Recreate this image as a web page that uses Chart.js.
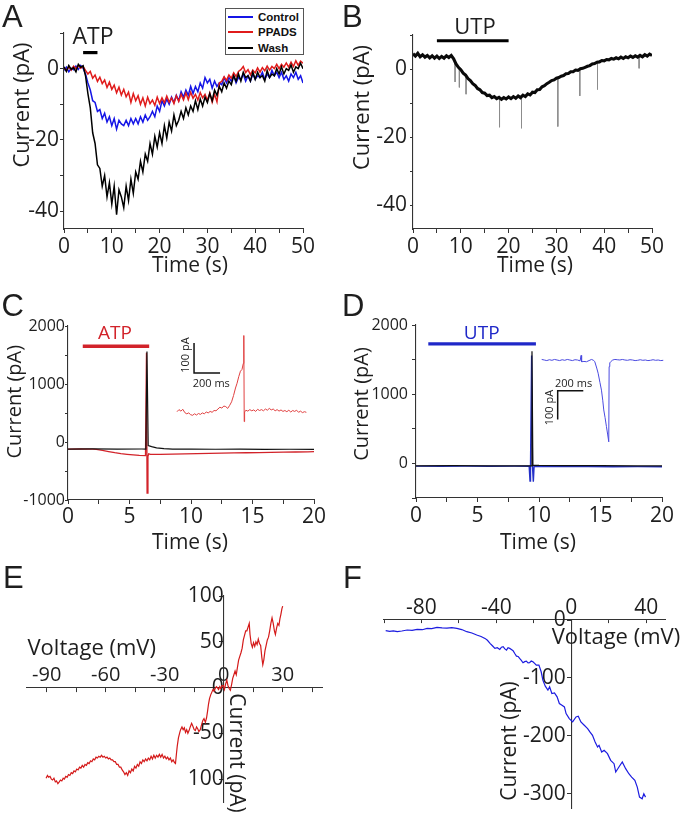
<!DOCTYPE html>
<html><head><meta charset="utf-8">
<script src="https://cdn.jsdelivr.net/npm/chart.js@4.4.1/dist/chart.umd.min.js"></script>
<style>
html,body{margin:0;padding:0;background:#fff;overflow:hidden;width:680px;height:816px;position:relative;}
canvas{position:absolute;}
#legA{position:absolute;left:225px;top:8px;width:77px;height:45px;border:1px solid #555;background:#fff;font:bold 11.5px "Liberation Sans",Arial,sans-serif;color:#111;}
.li{position:absolute;left:0;width:77px;height:14px;}
.li .s{position:absolute;left:2px;top:6px;width:25px;height:2px;}
.li .t{position:absolute;left:32px;top:0;line-height:14px;}
</style></head><body>
<canvas id="cA" width="340" height="290" style="left:0;top:0"></canvas>
<canvas id="cB" width="340" height="290" style="left:340px;top:0"></canvas>
<canvas id="cC" width="340" height="270" style="left:0;top:290px"></canvas>
<canvas id="cD" width="340" height="270" style="left:340px;top:290px"></canvas>
<canvas id="cE" width="340" height="280" style="left:0;top:560px"></canvas>
<canvas id="cF" width="340" height="280" style="left:340px;top:560px"></canvas>
<div id="legA">
 <div class="li" style="top:1px"><span class="s" style="background:#1515e6"></span><span class="t">Control</span></div>
 <div class="li" style="top:16px"><span class="s" style="background:#e01b1b"></span><span class="t">PPADS</span></div>
 <div class="li" style="top:32px"><span class="s" style="background:#000"></span><span class="t">Wash</span></div>
</div>
<script>
// ---------------- DATA ----------------
// Panel A: sampled every 0.5 s from 0 to 50 s
const sampleStepAB = 0.5;
const controlA = [
 -0.5,0.4,-0.9,0.1,-0.3,0.7,-0.2,0.9,0.1,-1.5,
 -4,-6,-9,-9.5,-12,-11.5,-14,-12.5,-15,-13.5,
 -16,-14,-17,-14.5,-15.5,-16,-14.5,-16,-14,-15.5,
 -14,-15.5,-13.5,-15,-13,-14.5,-13.5,-12,-13.5,-10.5,
 -12,-9,-10.5,-8.5,-10,-8,-9.5,-7.5,-9,-6.5,
 -8,-6,-7.5,-5,-7,-5,-6.5,-4,-5.5,-2.5,
 -4,-3,-5.5,-3.5,-5,-4,-4.5,-2.5,-4,-2.5,
 -3.5,-2,-4,-2.5,-3,-1.5,-3.5,-2,-3.5,-1.5,
 -3,-2,-2.5,-1,-3,-1.5,-2.5,-0.5,-2,-1,
 -2.5,-1,-3,-2,-3.5,-1.5,-2.5,-1,-3,-2,
 -4];
const ppadsA = [
 0.3,-0.6,0.5,-0.4,0.7,0,0.9,0.1,0.6,-0.5,
 -1.5,-0.8,-2.7,-1.8,-3.6,-2.4,-4.2,-3.2,-5.3,-3.8,
 -5.8,-4.6,-6.8,-5.2,-7.4,-5.8,-7.9,-6.6,-9.5,-7,
 -9,-7.6,-10,-8.2,-10.5,-8,-9.8,-8.8,-10.3,-8,
 -9.8,-8.2,-9.6,-7.7,-9.4,-8.2,-9.8,-7.6,-9.2,-7.2,
 -8.8,-6.8,-8.7,-6.6,-8.3,-7.2,-8.8,-6.7,-8.2,-7.2,
 -8.9,-6.8,-9.4,-7.2,-9.3,-4,-3.6,-2.3,-3.3,-1.8,
 -2.7,-1.2,-2.2,-0.8,-0.3,0.6,-1.1,-0.3,-1.7,-0.4,
 -1.2,0.2,-1,0.3,-0.6,0.7,-0.4,0.6,0,1.2,
 0,1.2,0.4,1.6,0.4,1.8,0.6,2.2,0.9,2.1,
 1.5];
const washA = [
 0.5,-0.8,0.9,-0.2,0.3,-0.9,1.2,0.4,0.8,-2,
 -7,-11,-18,-21,-27,-28,-33,-30,-36,-32,
 -38,-33,-41,-34,-36,-39,-33,-37,-31,-35,
 -29,-31,-26,-29,-24,-26,-21,-24,-19,-22,
 -18,-21,-16,-19.5,-15,-17.5,-13,-16,-14.5,-12,
 -14,-11,-13,-10.5,-12,-9,-11.5,-8.5,-10.5,-8,
 -9.5,-7,-9,-6,-7.5,-5,-6.5,-4,-5.5,-3.5,
 -4.5,-2,-3.5,-1.5,-3.5,-1,-2.5,-2,-3.5,-1,
 -3,-1,-2.5,-2,-3.5,-0.5,-2.5,-1.5,-2,0,
 -1.5,0.5,-1.5,0,-0.5,1,-1,0.5,0,1.5,
 0];
const atpBarA = [4, 7];      // s
const atpLevelA = 4.5;       // pA

// Panel B
const utpB = [
 4.5,3.8,4.6,3.6,4.2,3.5,4.0,3.3,3.9,3.2,
 3.8,3.1,3.7,3.2,3.9,3.4,4.0,3.0,1.5,0.5,
 -0.2,-1.2,-1.8,-2.8,-3.4,-4.3,-4.8,-5.7,-6.1,-6.9,
 -7.1,-7.8,-7.7,-8.4,-8.1,-8.7,-8.3,-8.9,-8.4,-8.8,
 -8.2,-8.7,-8.1,-8.6,-7.9,-8.4,-7.7,-8.1,-7.3,-7.6,
 -6.8,-6.9,-6.1,-6.0,-5.2,-4.9,-4.3,-3.9,-3.4,-3.2,
 -2.7,-2.5,-2.1,-1.9,-1.4,-1.3,-0.8,-0.8,-0.3,-0.4,
 0.1,0.2,0.5,0.8,1.0,1.5,1.6,2.0,2.1,2.5,
 2.4,2.8,2.7,3.1,2.9,3.3,3.0,3.5,3.1,3.6,
 3.3,3.8,3.4,3.9,3.5,4.0,3.6,4.2,3.8,4.4,
 4.0];
const spikeTimesB = [8.8, 9.7, 11.1, 18.1, 22.7, 30.3, 34.9, 38.6, 47.3];
const spikeBaseB  = [2.5, 0.3, -1.8, -8.5, -8.2, -2.5, 0.1, 1.8, 3.6];
const spikeTipB   = [-3.8, -5.4, -7.4, -17.1, -17.4, -16.9, -7.9, -6.0, 0.2];
const utpBarB = [5, 20];
const utpLevelB = 8.3;

// Panel C (time s, current pA)
const washC = [[0,-122],[2,-120],[4,-123],[6,-121],[6.33,-122],[6.42,1560],[6.52,-60],[6.8,-80],[7.2,-100],[7.8,-115],[8.5,-122],[10,-124],[12,-125],[14,-124],[16,-126],[18,-125],[20,-126]];
const atpC = [[0,-123],[1,-121],[2,-124],[2.3,-126],[2.8,-145],[3.3,-165],[3.8,-185],[4.3,-200],[4.8,-212],[5.3,-222],[5.8,-230],[6.3,-234],[6.38,1540],[6.43,-880],[6.5,-250],[6.56,-205],[6.7,-215],[7.5,-212],[8.5,-208],[9.5,-204],[10.5,-200],[11.5,-196],[12.5,-192],[13.5,-188],[14.5,-185],[15.5,-182],[16.5,-178],[17.5,-175],[18.5,-172],[19.5,-169],[20,-167]];
const atpBarC = [1.2, 6.6];
const atpLevelC = 1650;
// inset C (ms, pA)
const insetC = [[0,1],[15,8],[30,3],[45,9],[60,-2],[75,-6],[90,-3],[105,-9],[120,-11],[135,-6],[150,-10],[165,-5],[180,-8],[195,-3],[210,-6],[225,0],[240,-3],[255,2],[270,-1],[285,5],[300,4],[315,10],[330,16],[345,13],[360,20],[375,18],[390,12],[405,22],[420,34],[435,55],[450,80],[462,96],[475,118],[488,136],[500,142],[510,162],[514,255],[517,-32],[520,0],[530,6],[545,3],[560,8],[575,4],[590,7],[605,2],[620,9],[635,5],[650,8],[665,4],[680,10],[695,6],[710,12],[725,7],[740,10],[755,4],[770,8],[785,3],[800,7],[815,2],[830,5],[845,1],[860,6],[875,0],[890,5],[905,2],[920,6],[935,-1],[950,3],[965,-2],[980,1],[995,-1]];
const scaleBarC = [[131,230],[131,130],[331,130]];

// Panel D
const washD = [[0,-35],[3,-33],[6,-36],[9.3,-35],[9.38,-35],[9.43,1620],[9.5,-25],[10,-28],[12,-32],[15,-33],[18,-35],[20,-36]];
const utpD = [[0,-40],[2,-42],[4,-39],[6,-41],[8,-40],[9.2,-41],[9.27,-255],[9.31,-40],[9.4,1560],[9.47,-45],[9.54,-265],[9.6,-42],[10,-45],[12,-47],[14,-46],[16,-48],[18,-47],[20,-48]];
const utpBarD = [1.0, 9.75];
const utpLevelD = 1727;
const insetD = [[0,2],[20,0],[40,-2],[60,1],[80,-1],[100,2],[120,0],[140,-2],[160,1],[180,-1],[200,2],[220,0],[240,-2],[260,1],[280,0],[300,-3],[308,16],[312,-6],[330,-5],[350,-6],[370,-2],[389,2],[405,-1],[415,-6],[430,-28],[441,-46],[455,-78],[467,-105],[477,-140],[485,-174],[495,-200],[506,-232],[515,-258],[524,-285],[527,-23],[532,-10],[539,-6],[555,0],[572,2],[590,1],[611,0],[630,2],[650,0],[670,-1],[690,1],[710,0],[730,-2],[750,-1],[770,1],[790,-1],[810,0],[830,-2],[850,-1],[870,1],[890,-1],[910,0],[930,-2],[950,-1],[970,0],[990,-2],[1018,-1]];
const scaleBarD = [[325,-107],[125,-107],[125,-207]];

// Panel E (mV, pA)
const ivE = [[-90.3,-99],[-89.6,-96],[-89.0,-98],[-88.3,-97],[-87.6,-100],[-87.0,-101],[-86.3,-99],[-85.6,-103],[-85.0,-102],[-84.3,-105],[-83.6,-103],[-83.0,-101],[-82.3,-102],[-81.6,-99],[-81.0,-100],[-80.3,-97],[-79.6,-98],[-78.9,-95],[-78.2,-96],[-77.5,-93],[-76.8,-94],[-76.1,-91],[-75.4,-92],[-74.7,-89],[-74.0,-90],[-73.3,-87],[-72.6,-88],[-71.9,-85],[-71.2,-87],[-70.5,-84],[-69.8,-85],[-69.1,-82],[-68.4,-83],[-67.7,-80],[-67.0,-81],[-66.3,-78],[-65.6,-79],[-64.9,-76],[-64.2,-77],[-63.5,-75],[-62.8,-76],[-62.1,-74],[-61.4,-76],[-60.7,-75],[-60.0,-77],[-59.3,-76],[-58.6,-78],[-57.9,-77],[-57.2,-79],[-56.5,-79],[-55.8,-81],[-55.1,-81],[-54.4,-84],[-53.7,-84],[-53.0,-87],[-52.3,-87],[-51.6,-90],[-50.9,-92],[-50.2,-95],[-49.5,-93],[-48.8,-96],[-48.1,-91],[-47.4,-93],[-46.7,-89],[-46.0,-91],[-45.3,-86],[-44.6,-88],[-43.9,-84],[-43.2,-86],[-42.5,-81],[-41.8,-83],[-41.1,-79],[-40.4,-81],[-39.7,-78],[-39.0,-80],[-38.3,-77],[-37.6,-79],[-36.9,-75],[-36.2,-78],[-35.5,-74],[-34.8,-77],[-34.1,-74],[-33.4,-76],[-32.7,-73],[-32.0,-76],[-31.3,-73],[-30.6,-77],[-29.9,-75],[-29.2,-78],[-28.5,-76],[-27.8,-79],[-27.1,-77],[-26.4,-81],[-25.7,-79],[-25.0,-82],[-24.5,-83],[-24.0,-72],[-23.6,-64],[-23.0,-55],[-22.3,-49],[-21.9,-46],[-21.2,-43],[-20.6,-46],[-20.0,-44],[-19.4,-49],[-18.8,-46],[-18.2,-50],[-17.6,-47],[-17.0,-43],[-16.3,-39],[-15.7,-42],[-15.0,-46],[-14.4,-47],[-13.8,-43],[-13.2,-45],[-12.6,-48],[-11.9,-46],[-11.3,-41],[-10.6,-36],[-10.0,-34],[-9.3,-38],[-8.7,-33],[-8.2,-26],[-7.7,-18],[-7.2,-12],[-6.6,-8],[-6.0,-5],[-5.4,-2],[-4.9,-4],[-4.3,-1],[-3.7,1],[-3.2,0],[-2.6,-2],[-2.0,1],[-1.5,-1],[-0.9,2],[-0.2,2],[0.4,-2],[1.0,4],[1.6,8],[2.2,2],[2.8,-1],[3.4,-3],[4.0,3],[4.6,10],[5.2,14],[5.8,18],[6.4,14],[7.0,22],[7.6,30],[8.2,34],[8.8,38],[9.4,43],[10.0,52],[10.6,57],[11.2,62],[11.8,62],[12.4,66],[13.0,70],[13.4,58],[14.0,48],[14.6,44],[15.2,49],[15.8,45],[16.4,50],[17.0,47],[17.6,53],[18.2,48],[18.8,46],[19.4,33],[19.9,25],[20.4,30],[21.0,40],[21.6,46],[22.2,52],[22.8,55],[23.4,62],[24.0,70],[24.6,76],[25.2,70],[25.8,62],[26.3,58],[26.9,65],[27.5,70],[28.1,68],[28.6,75],[29.1,80],[29.6,86],[30.0,89]];

// Panel F (mV, pA)
const ivF = [[-99.1,-18.5],[-97,-19.5],[-95,-18.8],[-92.9,-20.2],[-90.5,-19],[-87.6,-17.3],[-85,-18],[-82.3,-16.2],[-79.5,-16.8],[-77,-14.4],[-74.5,-15],[-71.7,-12.7],[-69,-13.5],[-66.4,-13.9],[-63.8,-13.2],[-61.1,-14.4],[-58.5,-16.5],[-55.8,-20.2],[-53.1,-22.5],[-50.5,-26],[-48.2,-28.5],[-46.1,-31.8],[-44.8,-35],[-43.4,-40.4],[-42.0,-45],[-40.8,-49.1],[-39.5,-48],[-38.2,-50.8],[-37.3,-47],[-36.4,-46.2],[-35.5,-50],[-34.6,-52],[-33.8,-48],[-32.9,-49.1],[-32.0,-51],[-31.1,-53.1],[-30.2,-58],[-29.3,-62.4],[-28.4,-63],[-27.6,-66.4],[-26.7,-70],[-25.8,-73.9],[-24.9,-72],[-24.0,-71.1],[-23.1,-74],[-22.3,-73.9],[-21.4,-71],[-20.5,-72.2],[-19.6,-75],[-18.7,-78],[-17.3,-78],[-16.1,-89.5],[-15.2,-104],[-13.9,-114.4],[-12.5,-121.3],[-11.6,-115.5],[-10.4,-127.1],[-9.0,-125.9],[-7.6,-132.9],[-6.4,-144.4],[-5.0,-147.3],[-3.7,-150.2],[-2.8,-161.8],[-1.1,-170.4],[0.7,-176.2],[2.5,-167.5],[3.7,-166.4],[5.1,-176.2],[6.9,-182],[8.7,-187.7],[9.9,-193.5],[11.3,-199.3],[12.7,-210.8],[14.0,-219.5],[14.8,-216.6],[16.2,-228.2],[17.5,-225.3],[19.3,-231.1],[21.0,-242.6],[22.8,-248.4],[23.7,-262.8],[25.4,-254.2],[27.2,-245.5],[29.0,-257],[30.7,-265.7],[32.2,-271.5],[33.9,-277.3],[35.2,-288.8],[36.4,-306.2],[37.8,-309.1],[38.7,-300.4],[39.6,-306.2]];

// Tick values and labels
const ticksTime50 = [0,5,10,15,20,25,30,35,40,45,50];
const labelsTime50 = ['0','','10','','20','','30','','40','','50'];
const ticksCurAB = [-40,-30,-20,-10,0,10];
const labelsCurAB = ['-40','','-20','','0',''];
const ticksTime20 = [0,2.5,5,7.5,10,12.5,15,17.5,20];
const labelsTime20 = ['0','','5','','10','','15','','20'];
const ticksCurC = [-1000,-500,0,500,1000,1500,2000];
const labelsCurC = ['-1000','','0','','1000','','2000'];
const ticksCurD = [-500,0,500,1000,1500,2000];
const labelsCurD = ['','0','','1000','','2000'];
const ticksVoltE = [-90,-75,-60,-45,-30,-15,0,15,30,45];
const labelsVoltE = ['-90','','-60','','-30','','0','','30',''];
const ticksCurE = [-100,-50,0,50,100];
const labelsCurE = ['100','-50','0','50','100'];
const ticksVoltF = [-100,-80,-60,-40,-20,0,20,40];
const labelsVoltF = ['','-80','','-40','','0','','40'];
const ticksCurF = [-300,-200,-100,0];
const labelsCurF = ['-300','-200','-100','0'];

// ---------------- RENDER ----------------
const FONT = "'Open Sans', 'DejaVu Sans', sans-serif";
const LETTER = '31px "Liberation Sans", Arial, sans-serif';
Chart.defaults.font.family = FONT;
Chart.defaults.color = '#1e1e1e';
const AX = '#333';

const tGrid = controlA.map((_, i) => i * sampleStepAB);
const toXY = (xs, ys) => xs.map((x, i) => ({x, y: ys[i]}));
const pairs = a => a.map(p => ({x: p[0], y: p[1]}));
const bar = (ends, lvl) => [{x: ends[0], y: lvl}, {x: ends[1], y: lvl}];
function spikes(ts, base, tip) {
  const out = [];
  ts.forEach((t, i) => { out.push({x: t, y: base[i]}, {x: t, y: tip[i]}, {x: t, y: null}); });
  return out;
}
function line(data, color, w, extra) {
  return Object.assign({data, borderColor: color, borderWidth: w, pointRadius: 0, tension: 0, fill: false, spanGaps: false}, extra || {});
}

const TEXTS = {
  cA: [
    {t:'A', x:2, y:27, f:LETTER, a:'left'},
    {t:'ATP', x:93, y:43.5, f:'23px '+FONT},
    {t:'Current (pA)', x:28.5, y:105, f:'22px '+FONT, r:-Math.PI/2},
    {t:'Time (s)', x:190, y:271.5, f:'21px '+FONT}
  ],
  cB: [
    {t:'B', x:2, y:27, f:LETTER, a:'left'},
    {t:'UTP', x:135, y:33.5, f:'22px '+FONT},
    {t:'Current (pA)', x:28.5, y:107.5, f:'22px '+FONT, r:-Math.PI/2},
    {t:'Time (s)', x:195, y:271.5, f:'21px '+FONT}
  ],
  cC: [
    {t:'C', x:1.5, y:26, f:LETTER, a:'left'},
    {t:'ATP', x:115, y:49.3, f:'19px '+FONT, c:'#d2232a'},
    {t:'Current (pA)', x:20.5, y:111.7, f:'20px '+FONT, r:-Math.PI/2},
    {t:'Time (s)', x:190, y:259, f:'21px '+FONT},
    {t:'100 pA', x:188.5, y:65, f:'11px '+FONT, r:-Math.PI/2},
    {t:'200 ms', x:192.7, y:96.5, f:'11px '+FONT, a:'left'}
  ],
  cD: [
    {t:'D', x:2, y:26, f:LETTER, a:'left'},
    {t:'UTP', x:141.7, y:49.3, f:'19px '+FONT, c:'#1f28c8'},
    {t:'Current (pA)', x:28, y:114, f:'20px '+FONT, r:-Math.PI/2},
    {t:'Time (s)', x:198, y:259, f:'21px '+FONT},
    {t:'200 ms', x:215, y:96.5, f:'11px '+FONT, a:'left'},
    {t:'100 pA', x:212.8, y:117.5, f:'11px '+FONT, r:-Math.PI/2}
  ],
  cE: [
    {t:'E', x:3, y:28.3, f:LETTER, a:'left'},
    {t:'Voltage (mV)', x:91.7, y:95, f:'22px '+FONT},
    {t:'Current (pA)', x:230, y:193, f:'21px '+FONT, r:Math.PI/2}
  ],
  cF: [
    {t:'F', x:3, y:28, f:LETTER, a:'left'},
    {t:'Current (pA)', x:176, y:181, f:'21px '+FONT, r:-Math.PI/2},
    {t:'Voltage (mV)', x:211.7, y:84, f:'22px '+FONT, a:'left'}
  ]
};
Chart.register({
  id: 'annot',
  afterDraw(chart) {
    const ctx = chart.ctx;
    (TEXTS[chart.canvas.id] || []).forEach(it => {
      ctx.save();
      ctx.font = it.f;
      ctx.fillStyle = it.c || '#1e1e1e';
      ctx.textAlign = it.a || 'center';
      ctx.textBaseline = 'alphabetic';
      ctx.translate(it.x, it.y);
      if (it.r) ctx.rotate(it.r);
      ctx.fillText(it.t, 0, 0);
      ctx.restore();
    });
  }
});

function axis(o) {
  const s = {
    type: 'linear', min: o.min, max: o.max,
    afterBuildTicks: sc => { sc.ticks = o.vals.map(v => ({value: v})); },
    ticks: {autoSkip: false, maxRotation: 0, minRotation: 0, padding: o.pad, color: '#1e1e1e',
      font: {size: o.size, family: FONT}, callback: (v, i) => o.labels[i] + (o.suffix || '')},
    grid: {drawOnChartArea: false, drawTicks: true, tickLength: o.tl, tickColor: AX, tickWidth: 1},
    border: {display: true, color: AX, width: 1.1}
  };
  if (o.position) s.position = o.position;
  if (o.w !== undefined) s.afterFit = sc => { sc.width = o.w; };
  if (o.h !== undefined) s.afterFit = sc => { sc.height = o.h; };
  return s;
}
const hidden = (min, max, pos) => ({type: 'linear', display: false, min, max, position: pos});
function opts(padding, scales) {
  return {
    responsive: false, animation: false, devicePixelRatio: 1, events: [],
    layout: {padding},
    plugins: {legend: {display: false}, tooltip: {enabled: false}},
    scales
  };
}

// A
new Chart(document.getElementById('cA'), {
  type: 'line',
  data: {datasets: [
    line(toXY(tGrid, washA), '#000', 1.5),
    line(toXY(tGrid, ppadsA), '#e01b1b', 1.5),
    line(toXY(tGrid, controlA), '#1515e6', 1.5),
    line(bar(atpBarA, atpLevelA), '#000', 3.2)
  ]},
  options: opts({left: 0, top: 33, right: 37, bottom: 0}, {
    x: axis({min: 0, max: 50, vals: ticksTime50, labels: labelsTime50, size: 21, pad: 1, tl: 4, h: 61}),
    y: axis({min: -45, max: 10, vals: ticksCurAB, labels: labelsCurAB, size: 21, pad: 1, tl: 4, w: 64})
  })
});

// B
new Chart(document.getElementById('cB'), {
  type: 'line',
  data: {datasets: [
    line(toXY(tGrid, utpB), '#0a0a0a', 3.1),
    line(spikes(spikeTimesB, spikeBaseB, spikeTipB), '#8c8c8c', 1),
    line(bar(utpBarB, utpLevelB), '#000', 3)
  ]},
  options: opts({left: 0, top: 35, right: 28, bottom: 0}, {
    x: axis({min: 0, max: 50, vals: ticksTime50, labels: labelsTime50, size: 21, pad: 1, tl: 4, h: 61}),
    y: axis({min: -47, max: 10, vals: ticksCurAB, labels: labelsCurAB, size: 21, pad: 3, tl: 3, w: 73})
  })
});

// C
new Chart(document.getElementById('cC'), {
  type: 'line',
  data: {datasets: [
    line(pairs(washC), '#111', 1.2),
    line(pairs(atpC), '#d2232a', 1.3),
    line(bar(atpBarC, atpLevelC), '#d2232a', 3.5),
    line(pairs(insetC), '#e04040', 1, {xAxisID: 'xi', yAxisID: 'yi', clip: false}),
    line(pairs(scaleBarC), '#111', 1.5, {xAxisID: 'xi', yAxisID: 'yi', clip: false})
  ]},
  options: opts({left: 0, top: 36, right: 26, bottom: 0}, {
    x: axis({min: 0, max: 20, vals: ticksTime20, labels: labelsTime20, size: 21, pad: 0, tl: 4, h: 60}),
    y: axis({min: -1000, max: 2000, vals: ticksCurC, labels: labelsCurC, size: 16, pad: 0, tl: 3, w: 68}),
    xi: hidden(-838.5, 1053.8, 'bottom'),
    yi: hidden(-293.3, 286.7, 'left')
  })
});

// D
new Chart(document.getElementById('cD'), {
  type: 'line',
  data: {datasets: [
    line(pairs(washD), '#111', 1.2),
    line(pairs(utpD), '#2430c8', 1.4),
    line(bar(utpBarD, utpLevelD), '#1f28c8', 3.2),
    line(pairs(insetD), '#4a4ae0', 1, {xAxisID: 'xi', yAxisID: 'yi', clip: false}),
    line(pairs(scaleBarD), '#111', 1.5, {xAxisID: 'xi', yAxisID: 'yi', clip: false})
  ]},
  options: opts({left: 0, top: 35, right: 18, bottom: 0}, {
    x: axis({min: 0, max: 20, vals: ticksTime20, labels: labelsTime20, size: 21, pad: 1, tl: 4, h: 62}),
    y: axis({min: -500, max: 2000, vals: ticksCurD, labels: labelsCurD, size: 16, pad: 4, tl: 4, w: 76}),
    xi: hidden(-982, 940, 'bottom'),
    yi: hidden(-480.8, 122, 'left')
  })
});

// E
new Chart(document.getElementById('cE'), {
  type: 'line',
  data: {datasets: [ line(pairs(ivE), '#d41a1a', 1.2) ]},
  options: opts({left: 27, top: 36, right: 18, bottom: 38}, {
    x: axis({min: -100, max: 50, vals: ticksVoltE, labels: labelsVoltE, size: 20, pad: -28, tl: 4, position: {y: 0}}),
    y: axis({min: -125, max: 100, vals: ticksCurE, labels: labelsCurE, size: 21, pad: 0, tl: 4, position: {x: 0}})
  })
});

// F
new Chart(document.getElementById('cF'), {
  type: 'line',
  data: {datasets: [ line(pairs(ivF), '#1c1ce0', 1.2) ]},
  options: opts({left: 44, top: 60, right: 15, bottom: 32}, {
    x: axis({min: -100, max: 50, vals: ticksVoltF, labels: labelsVoltF, size: 21, pad: -28, tl: 3, position: {y: 0}}),
    y: axis({min: -325, max: 0, vals: ticksCurF, labels: labelsCurF, size: 21, pad: 0, tl: 4, position: {x: 0}, suffix: ' '})
  })
});
</script>
</body></html>
